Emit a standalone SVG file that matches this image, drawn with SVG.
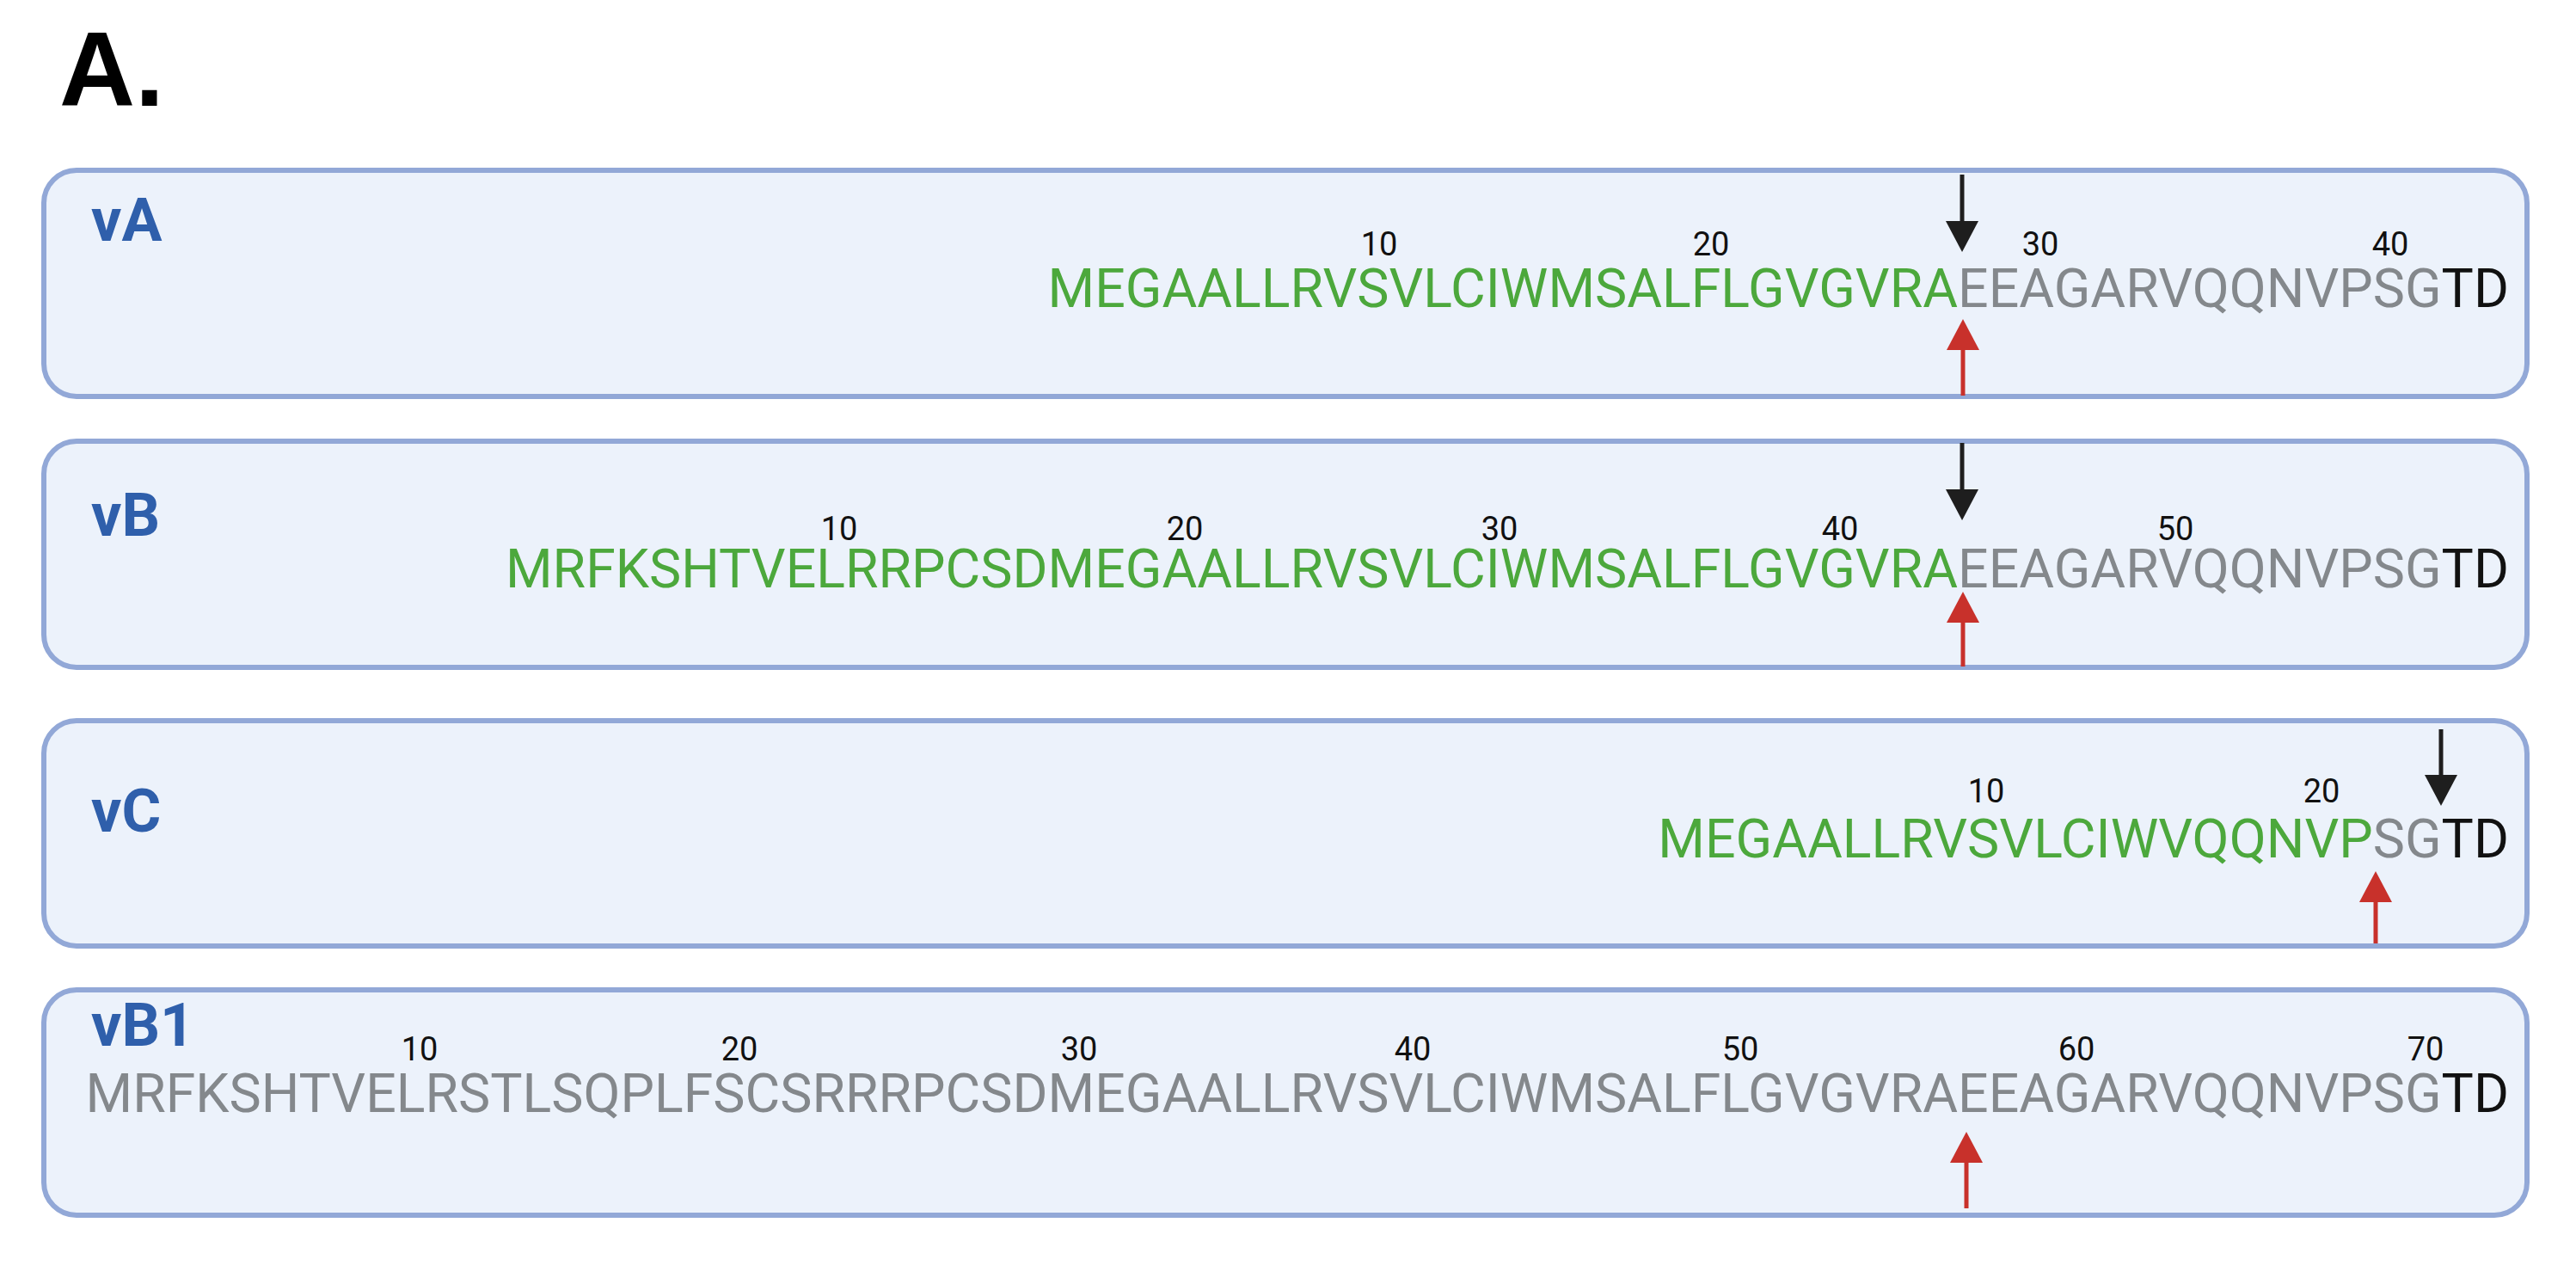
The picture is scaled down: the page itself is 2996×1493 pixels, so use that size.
<svg xmlns="http://www.w3.org/2000/svg" width="2996" height="1493" viewBox="0 0 2996 1493">
<style>
.box{fill:#ecf2fb;stroke:#92a8d7;stroke-width:6}
.lbl{font-family:Roboto,"Liberation Sans",sans-serif;font-weight:700;font-size:70px;fill:#2f5fab}
.seq{font-family:Roboto,"Liberation Sans",sans-serif;font-size:62.6px;text-anchor:end}
.num{font-family:Roboto,"Liberation Sans",sans-serif;font-size:38px;fill:#111;text-anchor:middle}
.g{fill:#4ca83c}
.gr{fill:#84888c}
.k{fill:#111}
.ab{stroke:#1e1e1e;stroke-width:5;fill:none}
.ar{stroke:#c8312b;stroke-width:5;fill:none}
</style>
<defs>
<marker id="hb" markerUnits="userSpaceOnUse" viewBox="0 0 36 38" refX="0" refY="19" markerWidth="36" markerHeight="38" orient="auto"><path d="M0,0 L36,19 L0,38 Z" fill="#1e1e1e"/></marker>
<marker id="hr" markerUnits="userSpaceOnUse" viewBox="0 0 36 38" refX="0" refY="19" markerWidth="36" markerHeight="38" orient="auto"><path d="M0,0 L36,19 L0,38 Z" fill="#c8312b"/></marker>
</defs>
<rect width="2996" height="1493" fill="#fff"/>
<text x="69" y="123" font-family="'Liberation Sans',Arial,sans-serif" font-weight="700" font-size="122" fill="#000">A.</text>

<g id="vA">
<rect class="box" x="51" y="198" width="2888" height="263" rx="38"/>
<text class="lbl" x="106" y="280">vA</text>
<text class="num" x="1604" y="297">10</text>
<text class="num" x="1990" y="297">20</text>
<text class="num" x="2373" y="297">30</text>
<text class="num" x="2780" y="297">40</text>
<text class="seq" x="2918" y="357"><tspan class="g">MEGAALLRVSVLCIWMSALFLGVGVRA</tspan><tspan class="gr">EEAGARVQQNVPSG</tspan><tspan class="k">TD</tspan></text>
</g>

<g id="vB">
<rect class="box" x="51" y="513" width="2888" height="263" rx="38"/>
<text class="lbl" x="106" y="623">vB</text>
<text class="num" x="976" y="628">10</text>
<text class="num" x="1378" y="628">20</text>
<text class="num" x="1744" y="628">30</text>
<text class="num" x="2140" y="628">40</text>
<text class="num" x="2530" y="628">50</text>
<text class="seq" x="2918" y="683"><tspan class="g">MRFKSHTVELRRPCSDMEGAALLRVSVLCIWMSALFLGVGVRA</tspan><tspan class="gr">EEAGARVQQNVPSG</tspan><tspan class="k">TD</tspan></text>
</g>

<g id="vC">
<rect class="box" x="51" y="838" width="2888" height="262" rx="38"/>
<text class="lbl" x="106" y="967">vC</text>
<text class="num" x="2310" y="933">10</text>
<text class="num" x="2700" y="933">20</text>
<text class="seq" x="2918" y="997"><tspan class="g">MEGAALLRVSVLCIWVQQNVP</tspan><tspan class="gr">SG</tspan><tspan class="k">TD</tspan></text>
</g>

<g id="vB1">
<rect class="box" x="51" y="1151" width="2888" height="262" rx="38"/>
<text class="lbl" x="106" y="1216">vB1</text>
<text class="num" x="488" y="1233">10</text>
<text class="num" x="860" y="1233">20</text>
<text class="num" x="1255" y="1233">30</text>
<text class="num" x="1643" y="1233">40</text>
<text class="num" x="2024" y="1233">50</text>
<text class="num" x="2415" y="1233">60</text>
<text class="num" x="2821" y="1233">70</text>
<text class="seq" x="2918" y="1293"><tspan class="gr">MRFKSHTVELRSTLSQPLFSCSRRRPCSDMEGAALLRVSVLCIWMSALFLGVGVRAEEAGARVQQNVPSG</tspan><tspan class="k">TD</tspan></text>
</g>

<g id="connectors">
<line class="ab" x1="2282" y1="203" x2="2282" y2="257" marker-end="url(#hb)"/>
<line class="ar" x1="2283" y1="460" x2="2283" y2="407" marker-end="url(#hr)"/>
<line class="ab" x1="2282" y1="515" x2="2282" y2="569" marker-end="url(#hb)"/>
<line class="ar" x1="2283" y1="775" x2="2283" y2="724" marker-end="url(#hr)"/>
<line class="ab" x1="2839" y1="848" x2="2839" y2="901" marker-end="url(#hb)"/>
<line class="ar" x1="2763" y1="1097" x2="2763" y2="1049" marker-end="url(#hr)"/>
<line class="ar" x1="2287" y1="1405" x2="2287" y2="1352" marker-end="url(#hr)"/>
</g>
</svg>
